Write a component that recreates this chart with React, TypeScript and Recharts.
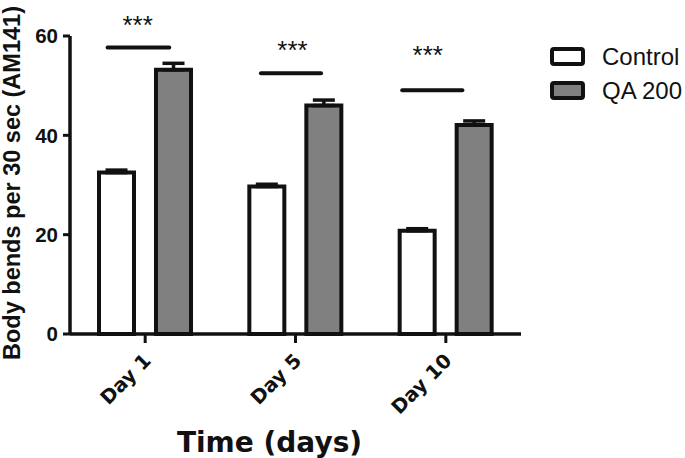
import { ComposedChart, Bar, XAxis, YAxis, ErrorBar, ReferenceLine, ReferenceDot, Legend, Label } from "recharts"

const days = ["Day 1", "Day 5", "Day 10"]
const control = [32.5, 29.7, 20.8]
const controlErr = [0.5, 0.45, 0.4]
const qa200 = [53.2, 46.0, 42.1]
const qa200Err = [1.3, 1.1, 0.8]

// significance bars (x in category units on a hidden 0..3 axis)
const sigLevel = [57.7, 52.5, 49.1]
const sigFrom = [0.25, 1.27, 2.21]
const sigTo = [0.66, 1.67, 2.61]
const starX = [0.45, 1.48, 2.38]
const starY = [62.8, 57.8, 56.8]

const seriesNames = ["Control", "QA 200"]
const seriesFills = ["#ffffff", "#808080"]
const yTicks = [0, 20, 40, 60]

const data = days.map((day, i) => ({
  day,
  slot: i + 0.5,
  control: control[i],
  controlErr: [0, controlErr[i]],
  qa: qa200[i],
  qaErr: [0, qa200Err[i]],
}))

const ink = "#111"

function DayTick({ x, y, payload }: any) {
  return (
    <text
      x={0}
      y={0}
      transform={`translate(${x + 7},${y + 17}) rotate(-45)`}
      textAnchor="end"
      fontFamily="DejaVu Sans"
      fontWeight="bold"
      fontSize={19.5}
      fill={ink}
    >
      {payload.value}
    </text>
  )
}

function YTitle({ viewBox }: any) {
  const cy = viewBox.y + viewBox.height / 2 - 2
  return (
    <text
      x={20}
      y={cy}
      transform={`rotate(-90, 20, ${cy})`}
      textAnchor="middle"
      fontFamily="Liberation Sans"
      fontWeight="bold"
      fontSize={23.5}
      fill={ink}
    >
      Body bends per 30 sec (AM141)
    </text>
  )
}

function XTitle({ viewBox }: any) {
  return (
    <text
      x={viewBox.x + viewBox.width / 2 - 26}
      y={viewBox.y + 118}
      textAnchor="middle"
      fontFamily="DejaVu Sans"
      fontWeight="bold"
      fontSize={28}
      fill={ink}
    >
      Time (days)
    </text>
  )
}

function Stars(p: any) {
  return (
    <text x={p.cx} y={p.cy + 12} textAnchor="middle" fontFamily="Liberation Sans" fontSize={26} fill={ink}>
      ***
    </text>
  )
}

function LegendBox() {
  return (
    <svg width={137} height={70}>
      {seriesNames.map((name, i) => (
        <g key={name}>
          <rect
            x={4}
            y={9 + i * 34}
            width={31}
            height={15}
            rx={2}
            fill={seriesFills[i]}
            stroke={ink}
            strokeWidth={4}
          />
          <text x={54} y={25 + i * 34} fontFamily="Liberation Sans" fontSize={24} fill={ink}>
            {name}
          </text>
        </g>
      ))}
    </svg>
  )
}

export default function App() {
  return (
    <div style={{ position: "absolute", left: 0, top: 0, width: 685, height: 458, background: "#fff" }}>
      <ComposedChart
        width={685}
        height={458}
        data={data}
        margin={{ top: 36, right: 164, bottom: 0, left: 0 }}
        barGap={22}
      >
        <XAxis
          dataKey="day"
          height={124}
          tickSize={9}
          tickMargin={2}
          interval={0}
          axisLine={{ stroke: ink, strokeWidth: 3.5 }}
          tickLine={{ stroke: ink, strokeWidth: 3 }}
          tick={<DayTick />}
        >
          <Label content={XTitle} />
        </XAxis>
        <XAxis
          xAxisId="sig"
          dataKey="slot"
          type="number"
          domain={[0, 3]}
          ticks={[0, 1, 2, 3]}
          hide
          allowDataOverflow
        />
        <YAxis
          domain={[0, 60]}
          ticks={yTicks}
          interval={0}
          width={70}
          tickSize={7}
          tickMargin={5}
          axisLine={{ stroke: ink, strokeWidth: 3.5 }}
          tickLine={{ stroke: ink, strokeWidth: 3 }}
          tick={{ fontFamily: "Liberation Sans", fontWeight: "bold", fontSize: 20.5, fill: ink }}
        >
          <Label content={YTitle} />
        </YAxis>
        <Legend
          layout="vertical"
          align="center"
          verticalAlign="middle"
          wrapperStyle={{ left: 548, top: 40, width: 137 }}
          content={LegendBox}
        />
        <Bar
          dataKey="control"
          name={seriesNames[0]}
          fill={seriesFills[0]}
          stroke={ink}
          strokeWidth={4}
          barSize={35}
          isAnimationActive={false}
        >
          <ErrorBar dataKey="controlErr" direction="y" width={11} stroke={ink} strokeWidth={3.5} isAnimationActive={false} />
        </Bar>
        <Bar
          dataKey="qa"
          name={seriesNames[1]}
          fill={seriesFills[1]}
          stroke={ink}
          strokeWidth={4}
          barSize={35}
          isAnimationActive={false}
        >
          <ErrorBar dataKey="qaErr" direction="y" width={11} stroke={ink} strokeWidth={3.5} isAnimationActive={false} />
        </Bar>
        {days.map((d, i) => (
          <ReferenceLine
            key={`line-${d}`}
            xAxisId="sig"
            segment={[
              { x: sigFrom[i], y: sigLevel[i] },
              { x: sigTo[i], y: sigLevel[i] },
            ]}
            stroke={ink}
            strokeWidth={4}
            strokeLinecap="round"
            ifOverflow="visible"
          />
        ))}
        {days.map((d, i) => (
          <ReferenceDot
            key={`stars-${d}`}
            xAxisId="sig"
            x={starX[i]}
            y={starY[i]}
            r={0}
            ifOverflow="visible"
            shape={Stars}
          />
        ))}
      </ComposedChart>
    </div>
  )
}
